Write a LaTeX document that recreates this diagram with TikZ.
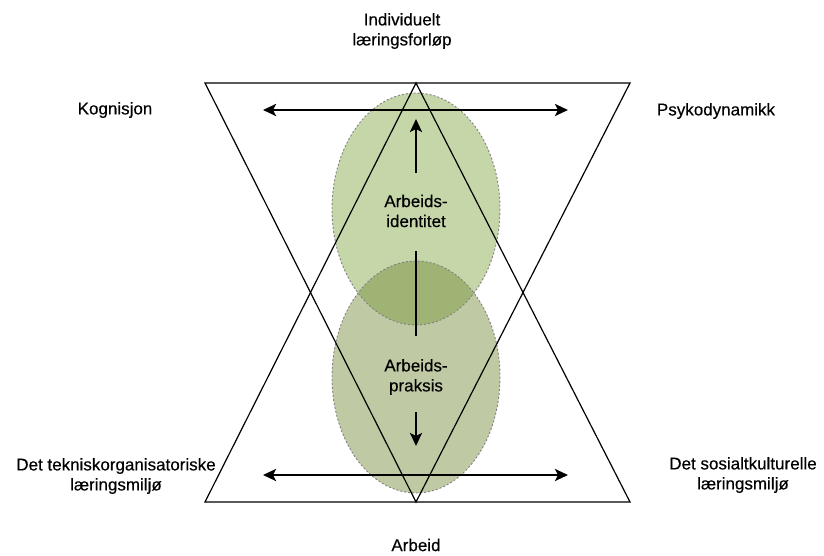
\documentclass[tikz,border=0pt]{standalone}
\usepackage{fontspec}
\setmainfont[FakeBold=0.3]{Liberation Sans}
\usetikzlibrary{arrows.meta}
\definecolor{greenA}{RGB}{126,164,64}
\definecolor{greenB}{RGB}{113,137,55}
\definecolor{rimgray}{RGB}{128,128,128}
\tikzset{
  lbl/.style={align=center, font=\fontsize{17}{20}\selectfont, inner sep=0pt},
  tri/.style={draw=black, line width=1.2pt, line join=miter},
  sphere/.style={fill opacity=0.45},
  rim/.style={draw=rimgray, line width=0.9pt, dash pattern=on 2pt off 2pt},
  headtip/.tip={Stealth[length=13pt,width=12pt,inset=3pt]},
  bigarrow/.style={line width=2.6pt, -headtip},
  twoway/.style={line width=2.6pt, headtip-headtip},
  bar/.style={line width=2.6pt}
}
\begin{document}
\begin{tikzpicture}[x=1pt,y=-1pt]
  \useasboundingbox (0,0) rectangle (824,556);

  % the two overlapping circles
  \fill[greenA, sphere] (416,209) ellipse [x radius=84, y radius=116];
  \fill[greenB, sphere] (416,377) ellipse [x radius=84, y radius=116];
  \draw[rim] (416,209) ellipse [x radius=84, y radius=116];
  \draw[rim] (416,377) ellipse [x radius=84, y radius=116];

  % inverted and upright triangles
  \coordinate (tl) at (205,83);
  \coordinate (tr) at (630,83);
  \coordinate (ta) at (416,83);
  \coordinate (bl) at (205,502);
  \coordinate (br) at (630,502);
  \coordinate (ba) at (416,502);
  \draw[tri] (tl) -- (tr) -- (ba) -- cycle;
  \draw[tri] (bl) -- (br) -- (ta) -- cycle;

  % horizontal double arrows
  \coordinate (h1l) at (263,110);
  \coordinate (h1r) at (568,110);
  \coordinate (h2l) at (263,475);
  \coordinate (h2r) at (568,475);
  \draw[twoway] (h1l) -- (h1r);
  \draw[twoway] (h2l) -- (h2r);

  % vertical axis pieces
  \coordinate (v1a) at (416,173);
  \coordinate (v1b) at (416,119);
  \coordinate (v2a) at (416,251);
  \coordinate (v2b) at (416,336);
  \coordinate (v3a) at (416,412);
  \coordinate (v3b) at (416,446);
  \draw[bigarrow] (v1a) -- (v1b);
  \draw[bar] (v2a) -- (v2b);
  \draw[bigarrow] (v3a) -- (v3b);

  % labels
  \node[lbl] (top) at (402,31) {Individuelt\\læringsforløp};
  \node[lbl] (kog) at (115,110) {Kognisjon};
  \node[lbl] (psy) at (716,111) {Psykodynamikk};
  \node[lbl] (tek) at (116,476) {Det tekniskorganisatoriske\\læringsmiljø};
  \node[lbl] (sos) at (743,475) {Det sosialtkulturelle\\læringsmiljø};
  \node[lbl] (arb) at (416,545) {Arbeid};
  \node[lbl] (ident) at (416,211) {Arbeids-\\identitet};
  \node[lbl] (praks) at (416,377) {Arbeids-\\praksis};
\end{tikzpicture}
\end{document}
